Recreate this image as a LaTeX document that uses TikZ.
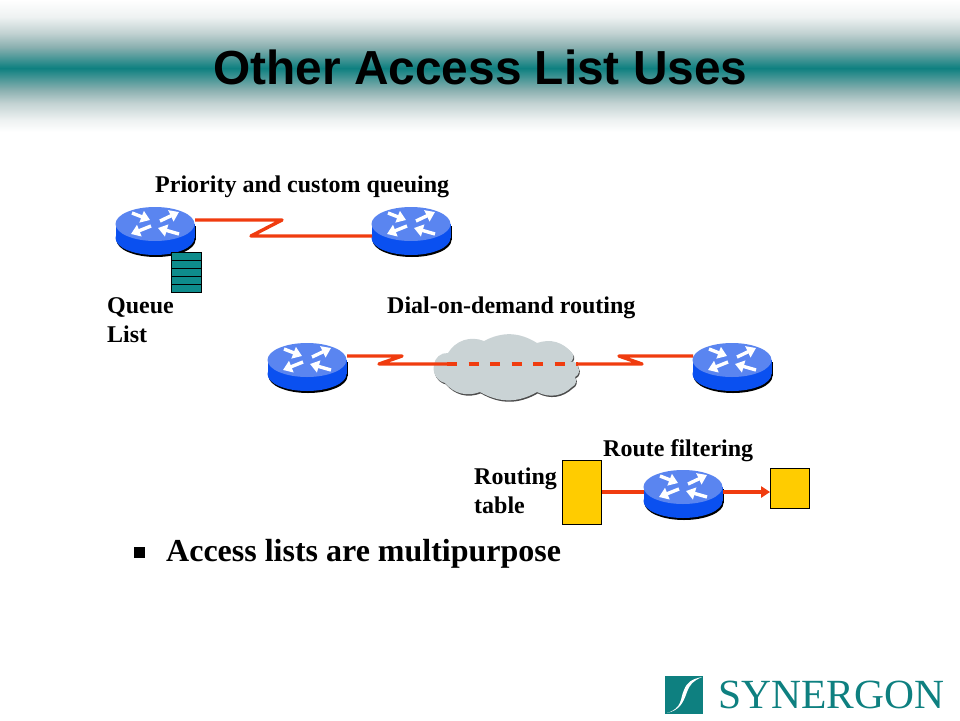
\documentclass[tikz,border=0pt]{standalone}
\usepackage{fontspec}
\setmainfont{Liberation Serif}
\newfontfamily\headfont{Liberation Sans}
\usetikzlibrary{arrows.meta}
\definecolor{bandteal}{HTML}{0E8080}
\definecolor{fadeA}{HTML}{EEF2F2}
\definecolor{fadeB}{HTML}{C2D2D2}
\definecolor{fadeC}{HTML}{8AB0B0}
\definecolor{linkred}{HTML}{F03C0F}
\definecolor{routerside}{HTML}{0A50F0}
\definecolor{routertop}{HTML}{5A85F0}
\definecolor{cloudgray}{HTML}{CAD3D5}
\definecolor{tablegold}{HTML}{FFCC00}
\definecolor{queueteal}{HTML}{0E8C8C}
\pgfdeclareverticalshading{bandfade}{100bp}{color(0bp)=(white); color(25bp)=(white); color(29.5bp)=(fadeA); color(36bp)=(fadeB); color(40.9bp)=(fadeC); color(49.2bp)=(bandteal); color(57.2bp)=(fadeC); color(62.5bp)=(fadeB); color(68.6bp)=(fadeA); color(75bp)=(white); color(100bp)=(white)}

\begin{document}
\begin{tikzpicture}[
    x=1pt, y=-1pt,
    link/.style={draw=linkred, line width=3.4pt, line join=round},
    caption/.style={font=\fontsize{24}{29}\selectfont\bfseries, anchor=base west, inner sep=0pt, align=left},
    table/.style={draw=black, fill=tablegold, line width=0.8pt, inner sep=0pt},
    queuecell/.style={draw=black, fill=queueteal, line width=0.8pt, minimum width=30pt, minimum height=8pt, inner sep=0pt},
    flow/.style={white, line width=3.4pt, -{Triangle[length=9pt,width=12pt]}},
    router/.pic={
        \fill[black] (-38.5,2) rectangle (40.5,16);
        \fill[black] (1,16) ellipse [x radius=39.5, y radius=17];
        \fill[routerside] (-39.5,0) rectangle (39.5,14);
        \fill[routerside] (0,14) ellipse [x radius=39.5, y radius=17];
        \fill[routertop] (0,0) ellipse [x radius=39.5, y radius=17];
        \draw[flow] (-23,-11) -- (-5,-4);
        \draw[flow] (5,-3) -- (24,-12);
        \draw[flow] (-4,2) -- (-24,10);
        \draw[flow] (24,10) -- (3,4);
        \node[minimum width=80pt, minimum height=48pt, inner sep=0pt] (-body) at (0,7) {};
        \coordinate (-wtop) at (-39,-4);
        \coordinate (-etop) at (40,-4);
        \coordinate (-wlow) at (-39,12);
        \coordinate (-wmid) at (-39,5);
        \coordinate (-emid) at (40,5);
    },
]
\useasboundingbox (0,0) rectangle (960,720);
\shade[shading=bandfade] (0,0) rectangle (960,132);
\node[font=\headfont\fontsize{47.8}{50}\selectfont\bfseries, inner sep=0pt] (title) at (480.5,67) {Other Access List Uses};

% cloud
\foreach \dx/\dy/\col in {0.8/1.4/black!70, 0/0/cloudgray} {
    \fill[\col, shift={(\dx,\dy)}] (434,365) to[bend left=45] (448,353) to[bend left=40] (484,341)
        to[bend left=30] (537,343) to[bend left=35] (572,353) to[bend left=60] (570,362)
        to[bend left=60] (578,367) to[bend left=50] (575,377) to[bend left=50] (572,387)
        to[bend left=35] (537,392) to[bend left=30] (480,392) to[bend left=35] (445,383)
        to[bend left=45] (434,365) -- cycle;
}

\foreach \name/\x/\y in {rtA/155/224, rtB/411/224, rtC/307/360, rtD/732/360, rtE/683/487} {
    \pic (\name) at (\x,\y) {router};
}

\foreach \i in {0,...,4} {
    \node[queuecell] (queue\i) at (186,{256+8*\i}) {};
}

\node[table, minimum width=39pt, minimum height=64pt] (tableIn) at (582,492) {};
\node[table, minimum width=39pt, minimum height=40pt] (tableOut) at (790,488) {};

\coordinate (cloudW) at (447,364);
\coordinate (cloudE) at (578,364);

\draw[link] (rtA-etop) -- (282,220) -- (251,236) -- (rtB-wlow);
\draw[link] (rtC-etop) -- (402,356) -- (379,364) -- (cloudW);
\draw[link, dash pattern=on 10pt off 11.5pt] (cloudW) -- (cloudE);
\draw[link] (cloudE) -- (642,364) -- (619,356) -- (rtD-wtop);
\draw[link] (tableIn.east |- rtE-wmid) -- (rtE-wmid);
\draw[link, -{Triangle[length=9pt,width=11pt]}] (rtE-emid) -- (tableOut.west |- rtE-emid);

\foreach \name/\x/\y/\txt in {capPriority/155/192/{Priority and custom queuing}, capQueue/107/342/{Queue\\List}, capDial/387/313/{Dial-on-demand routing}, capRoute/603/456/{Route filtering}, capTable/474/513/{Routing\\table}} {
    \node[caption] (\name) at (\x,\y) {\txt};
}

\node[fill=black, minimum size=11pt, inner sep=0pt] (bullet) at (139,552) {};
\node[anchor=base west, inner sep=0pt, font=\fontsize{32}{35}\selectfont\bfseries] (bulletText) at (166,561) {Access lists are multipurpose};

% logo
\node[fill=bandteal, minimum size=38pt, inner sep=0pt] (logoBox) at (684,695) {};
\fill[white] (667,713) .. controls (683,708) and (680,698) .. (684,690) .. controls (687,682) and (692,679) .. (702,677)
    .. controls (693,681) and (690,684) .. (687,692) .. controls (683,703) and (680,710) .. (667,713) -- cycle;
\node[anchor=base west, inner sep=0pt, text=bandteal, font=\fontsize{41.5}{44}\selectfont] (logoText) at (718,708) {SYNERGON};
\end{tikzpicture}
\end{document}
